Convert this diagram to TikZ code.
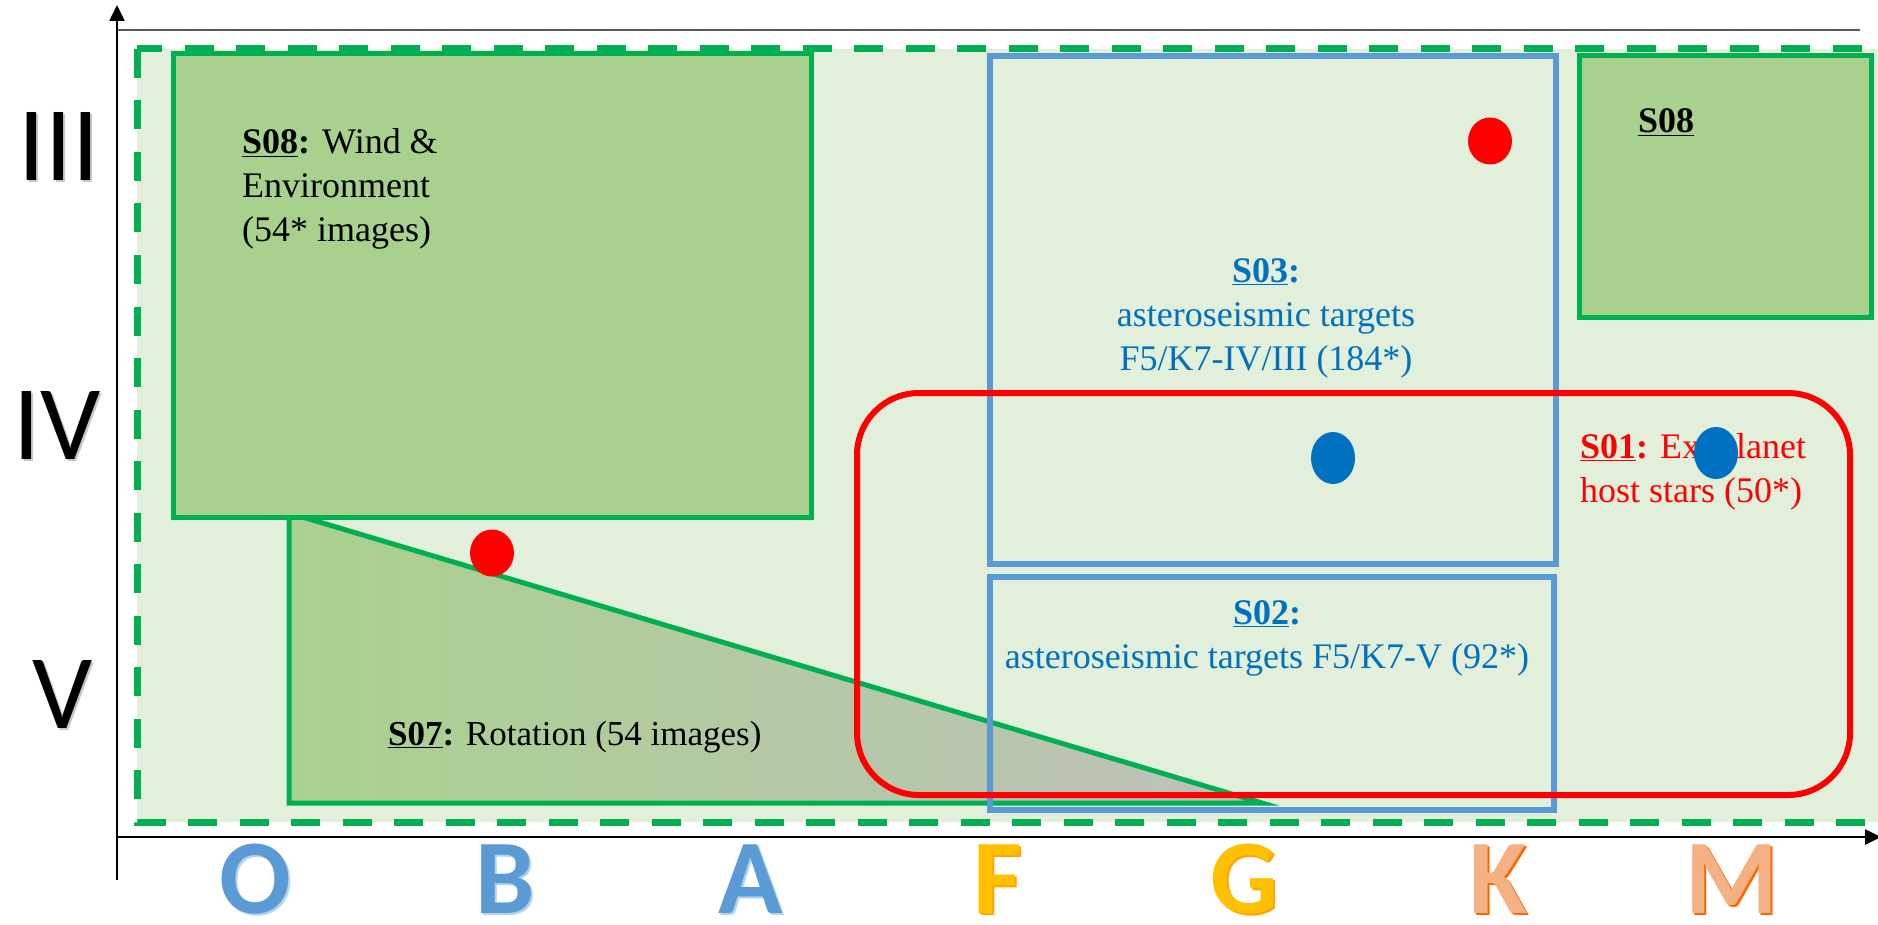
\documentclass[tikz,border=0pt]{standalone}
\usepackage{fontspec}
\setmainfont{Liberation Serif}
\newfontfamily\calfont{Carlito}
\usetikzlibrary{arrows.meta,shapes.geometric}
\definecolor{bgG}{HTML}{E2EFDA}
\definecolor{gB}{HTML}{00B050}
\definecolor{gF}{HTML}{A9D18E}
\definecolor{bB}{HTML}{5B9BD5}
\definecolor{bT}{HTML}{0070C0}
\definecolor{rR}{HTML}{FF0000}
\definecolor{goldC}{HTML}{FFC000}
\definecolor{peachC}{HTML}{F4B183}
\definecolor{axisgray}{HTML}{595959}
\definecolor{triGray}{HTML}{BFC1BB}
\newcommand{\ulab}[1]{\underline{\textbf{#1}}}
\tikzset{
  txt/.style={font=\fontsize{36}{44}\selectfont, inner sep=0pt},
  greenbox/.style={draw=gB, fill=gF, line width=5pt},
  bluebox/.style={draw=bB, line width=6pt},
  stardot/.style={ellipse, inner sep=0pt, minimum width=44pt},
  roman/.style={font=\calfont\fontsize{106}{110}\selectfont, inner sep=0pt},
  spec/.style={font=\calfont\bfseries\fontsize{106}{110}\selectfont, inner sep=0pt},
}
\begin{document}
\begin{tikzpicture}[x=1pt,y=-1pt]
\useasboundingbox (0,0) rectangle (1878,925);
\begin{scope}
\clip (0,0) rectangle (1878,925);
% background dashed region
\draw[gB, fill=bgG, line width=7pt, dash pattern=on 29pt off 22.5pt] (137,49) rectangle (1900,822);
% S07 triangle
\path[draw=gB, line width=5pt, left color=gF, right color=triGray] (289,513) -- (1262,803) -- (289,803) -- cycle;
% S08 boxes
\path[greenbox] (173,54) rectangle (811,517);
\path[greenbox] (1579,56) rectangle (1871,317);
% blue boxes
\draw[bluebox] (990,56) rectangle (1556,564);
\draw[bluebox] (990,577) rectangle (1554,810);
% axes
\draw[axisgray, line width=2pt] (118,30) -- (1860,30);
\coordinate (ybot) at (117,880);
\coordinate (ytop) at (117,5);
\coordinate (xl) at (117,837);
\coordinate (xr) at (1881,837);
\draw[line width=2.5pt, -{Triangle[length=16pt,width=15pt]}] (ybot) -- (ytop);
\draw[line width=2.5pt, -{Triangle[length=16pt,width=15pt]}] (xl) -- (xr);
% texts (base anchor = baseline of the last line)
\node[txt, anchor=base west, align=left] (t08) at (242,242) {\ulab{S08}\textbf{:} Wind \&\\Environment\\(54* images)};
\node[txt, anchor=base west] (t08b) at (1638,133) {\ulab{S08}};
\node[txt, anchor=base, align=center, text=bT] (t03) at (1266,370) {\ulab{S03}\textbf{:}\\asteroseismic targets\\F5/K7-IV/III (184*)};
\node[txt, anchor=base, align=center, text=bT] (t02) at (1267,668) {\ulab{S02}\textbf{:}\\asteroseismic targets F5/K7-V (92*)};
\node[txt, anchor=base west, font=\fontsize{35}{44}\selectfont] (t07) at (388,745) {\ulab{S07}\textbf{:} Rotation (54 images)};
\node[txt, anchor=base west, align=left, text=rR] (t01) at (1580,502) {\ulab{S01}\textbf{:} Exoplanet\\host stars (50*)};
% S01 red rounded box
\draw[rR, line width=6pt, rounded corners=62pt] (857,393) rectangle (1850,795);
% dots
\node[stardot, fill=rR, minimum height=47pt] (r1) at (492,553) {};
\node[stardot, fill=rR, minimum height=47pt] (r2) at (1490,141) {};
\node[stardot, fill=bT, minimum height=52pt] (b1) at (1333,458) {};
\node[stardot, fill=bT, minimum height=52pt] (b2) at (1716,453) {};
% luminosity classes
\node[roman, text=black!22] (s3) at (61,148) {III};
\node[roman] (l3) at (59,146) {III};
\node[roman, text=black!22] (s4) at (59,427) {IV};
\node[roman] (l4) at (57,425) {IV};
\node[roman, text=black!22] (s5) at (65,696) {V};
\node[roman] (l5) at (63,694) {V};
% spectral classes
\node[spec, text=bB!45] (sO) at (257,881) {O};
\node[spec, text=bB] (cO) at (255,879) {O};
\node[spec, text=bB!45] (sB) at (507,881) {B};
\node[spec, text=bB] (cB) at (505,879) {B};
\node[spec, text=bB!45] (sA) at (753,881) {A};
\node[spec, text=bB] (cA) at (751,879) {A};
\node[spec, text=goldC!60!orange] (sF) at (1000,881) {F};
\node[spec, text=goldC] (cF) at (998,879) {F};
\node[spec, text=goldC!60!orange] (sG) at (1246,881) {G};
\node[spec, text=goldC] (cG) at (1244,879) {G};
\node[spec, text=orange!80!red] (sK) at (1500,881) {K};
\node[spec, text=peachC] (cK) at (1498,879) {K};
\node[spec, text=orange!80!red] (sM) at (1734,881) {M};
\node[spec, text=peachC] (cM) at (1732,879) {M};
\end{scope}
\end{tikzpicture}
\end{document}
